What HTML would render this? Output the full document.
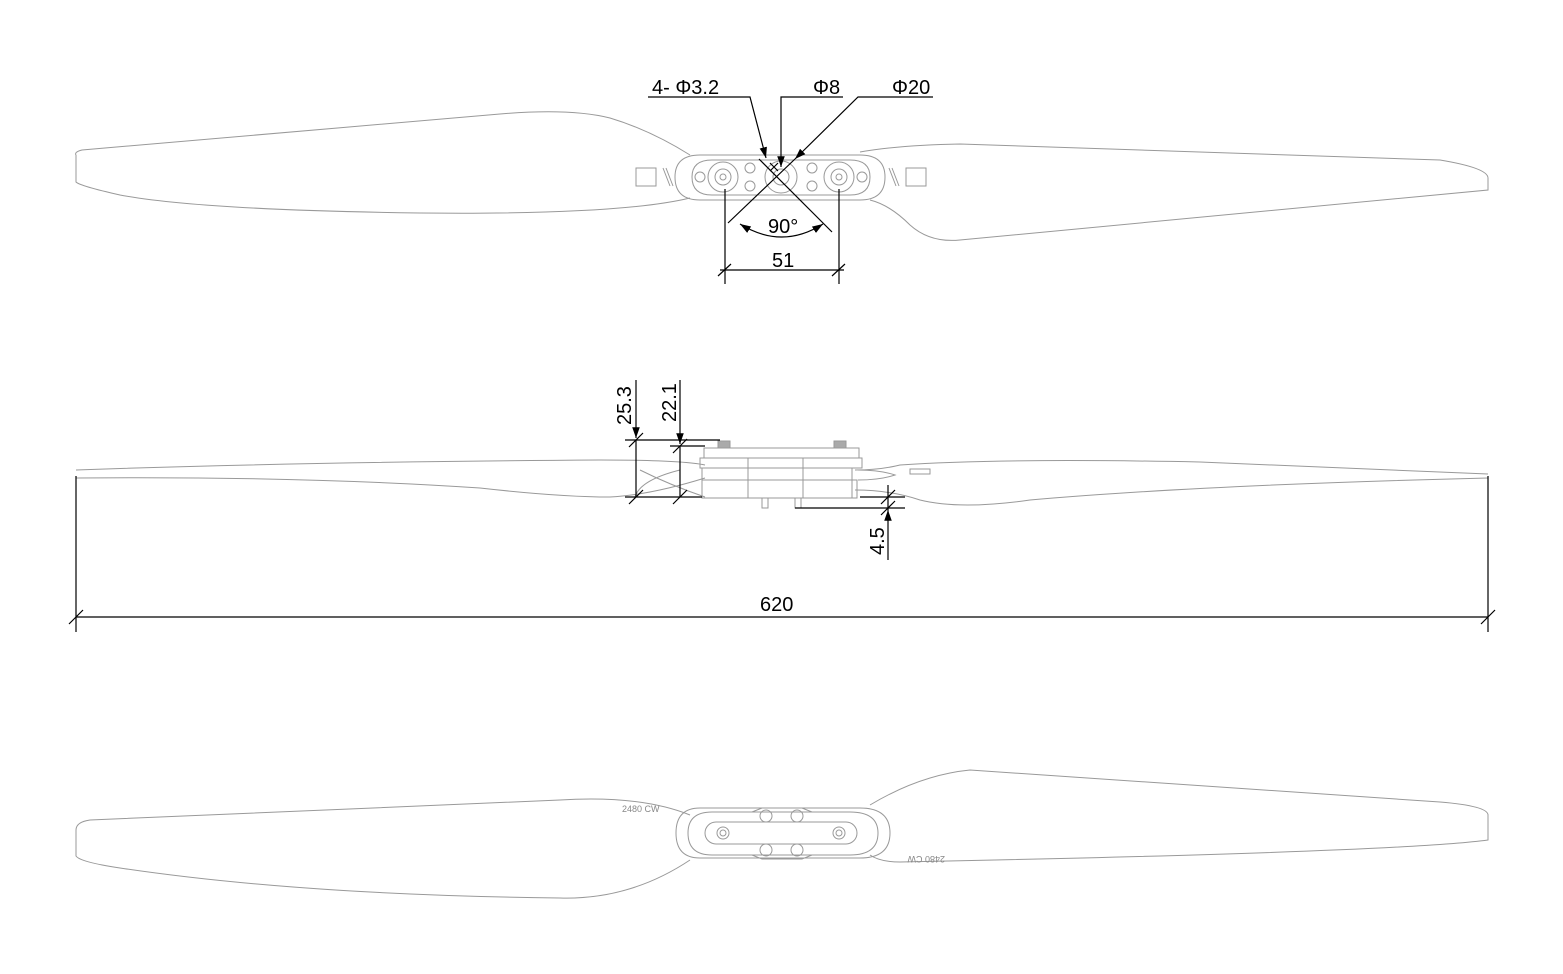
<!DOCTYPE html>
<html><head><style>html,body{margin:0;padding:0;background:#fff}svg{display:block}</style></head>
<body>
<svg width="1563" height="974" viewBox="0 0 1563 974" xmlns="http://www.w3.org/2000/svg" font-family="Liberation Sans, sans-serif">
<defs>
<marker id="ar" viewBox="0 0 10 10" refX="10" refY="5" markerWidth="9" markerHeight="9" orient="auto-start-reverse"><path d="M0,1.5 L10,5 L0,8.5 z" fill="#000"/></marker>
</defs>
<g fill="none" stroke="#999" stroke-width="1">
<path d="M76,155 Q74,152 82,150 L500,114 Q570,108 610,118 Q650,130 690,155"/>
<path d="M76,155 L76,182 Q80,186 120,195 Q200,210 420,213 Q620,215 690,198"/>
<path d="M860,152 Q900,145 960,144 L1440,160 Q1488,168 1488,178 L1488,190 L960,240 Q930,243 910,225 Q890,205 870,200"/>
<path d="M700,155 L860,155 Q885,155 885,177 Q885,200 860,200 L700,200 Q675,200 675,177 Q675,155 700,155 Z"/>
<path d="M712,160 L850,160 Q870,160 870,177 Q870,195 850,195 L712,195 Q692,195 692,177 Q692,160 712,160 Z"/>
<circle cx="723" cy="177" r="15"/><circle cx="723" cy="177" r="8"/><circle cx="723" cy="177" r="3"/>
<circle cx="839" cy="177" r="15"/><circle cx="839" cy="177" r="8"/><circle cx="839" cy="177" r="3"/>
<circle cx="781" cy="177" r="8"/><circle cx="781" cy="177" r="16"/>
<circle cx="700" cy="177" r="5"/><circle cx="862" cy="177" r="5"/>
<circle cx="750" cy="168" r="5"/><circle cx="750" cy="186" r="5"/><circle cx="812" cy="168" r="5"/><circle cx="812" cy="186" r="5"/>
<rect x="636" y="168" width="20" height="18"/><rect x="906" y="168" width="20" height="18"/>
<path d="M663,168 L670,186 M666,168 L673,186 M889,168 L896,186 M892,168 L899,186"/>
<path d="M76,470 Q300,462 600,460 Q680,460 705,465"/>
<path d="M76,478 Q300,476 480,488 Q560,497 610,497 Q650,495 705,478"/>
<path d="M855,470 Q880,470 900,465 Q1000,458 1200,462 L1488,474"/>
<path d="M855,490 Q890,490 920,500 Q960,510 1030,500 Q1200,485 1488,478"/>
<path d="M640,470 Q670,485 705,497 M680,470 Q640,480 635,497"/>
<rect x="704" y="448" width="155" height="10"/>
<rect x="700" y="458" width="162" height="10"/>
<rect x="702" y="468" width="150" height="30"/>
<rect x="702" y="480" width="155" height="18"/>
<rect x="718" y="441" width="12" height="7" fill="#aaa"/><rect x="834" y="441" width="12" height="7" fill="#aaa"/>
<rect x="762" y="498" width="6" height="10"/><rect x="795" y="498" width="6" height="10"/>
<rect x="748" y="458" width="55" height="40"/>
<path d="M858,470 Q880,470 895,475 Q880,480 858,480"/>
<rect x="910" y="469" width="20" height="5"/>
<path d="M76,830 Q76,822 90,820 L560,800 Q640,795 690,815"/>
<path d="M76,830 L76,856 Q80,862 120,868 Q300,895 560,898 Q630,900 690,860"/>
<path d="M870,805 Q920,775 970,770 L1440,802 Q1488,806 1488,815 L1488,840 Q1400,852 900,862 Q880,862 870,855"/>
<path d="M700,808 L860,808 Q890,808 890,833 Q890,858 860,858 L700,858 Q676,858 676,833 Q676,808 700,808 Z"/>
<path d="M712,812 L850,812 Q878,812 878,833 Q878,855 850,855 L712,855 Q688,855 688,833 Q688,812 712,812 Z"/>
<rect x="705" y="822" width="152" height="22" rx="11"/>
<path d="M752,812 L762,808 L802,808 L812,812 M752,855 L762,859 L802,859 L812,855"/>
<circle cx="723" cy="833" r="6"/><circle cx="723" cy="833" r="3"/>
<circle cx="839" cy="833" r="6"/><circle cx="839" cy="833" r="3"/>
<circle cx="766" cy="816" r="6"/><circle cx="797" cy="816" r="6"/>
<circle cx="766" cy="850" r="6"/><circle cx="797" cy="850" r="6"/>
</g>
<text x="622" y="812" font-size="9" fill="#888">2480 CW</text>
<text x="895" y="862" font-size="9" fill="#888" transform="rotate(180 920 859)">2480 CW</text>
<g stroke="#000" stroke-width="1.2" fill="none">
<path d="M648,97 L750,97 L766,158" marker-end="url(#ar)"/>
<path d="M843,97 L781,97 L781,167" marker-end="url(#ar)"/>
<path d="M933,97 L858,97 L795,159" marker-end="url(#ar)"/>
<path d="M795,159 L728,223"/>
<path d="M759,159 L832,232"/>
<path d="M725,189 L725,284 M839,189 L839,284"/>
<path d="M720,270 L844,270"/>
<path d="M718,276 L731,264 M832,276 L845,264"/>
<path d="M740,224 Q782,250 823,224" marker-start="url(#ar)" marker-end="url(#ar)"/>
<path d="M770,163 l8,8 m0,-8 l-8,8"/>
</g>
<g font-size="20" fill="#000">
<text x="652" y="94">4- Φ3.2</text>
<text x="813" y="94">Φ8</text>
<text x="892" y="94">Φ20</text>
<text x="768" y="233">90°</text>
<text x="772" y="267">51</text>
<text x="760" y="611">620</text>
</g>
<g stroke="#000" stroke-width="1.2" fill="none">
<path d="M636,380 L636,438" marker-end="url(#ar)"/>
<path d="M680,380 L680,444" marker-end="url(#ar)"/>
<path d="M625,440 L720,440 M670,446 L705,446"/>
<path d="M636,440 L636,497 M680,446 L680,497"/>
<path d="M625,497 L702,497"/>
<path d="M629,447 L643,433 M673,453 L687,439 M629,504 L643,490 M673,504 L687,490"/>
<path d="M860,497 L905,497 M795,508 L905,508"/>
<path d="M888,485 L888,560 M888,556 L888,510" marker-end="url(#ar)"/>
<path d="M881,504 L895,490 M881,515 L895,501"/>
<path d="M76,476 L76,632 M1488,476 L1488,632"/>
<path d="M76,617 L1488,617"/>
<path d="M69,624 L83,610 M1481,624 L1495,610"/>
</g>
<g font-size="20" fill="#000">
<text transform="translate(631,425) rotate(-90)">25.3</text>
<text transform="translate(676,422) rotate(-90)">22.1</text>
<text transform="translate(884,555) rotate(-90)">4.5</text>
</g>
</svg>
</body></html>
